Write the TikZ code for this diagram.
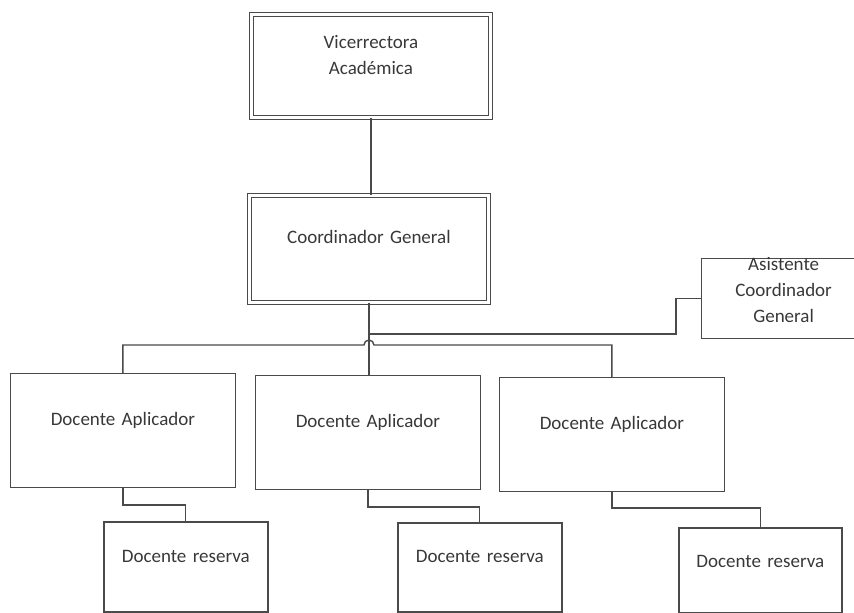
\documentclass[tikz,border=0pt]{standalone}
\usepackage{fontspec}
\setmainfont{Carlito}
\usepackage{tikz}
\usetikzlibrary{calc}
\definecolor{linegray}{HTML}{4A4A4A}
\definecolor{textgray}{HTML}{383838}

\begin{document}
\begin{tikzpicture}[x=1pt, y=-1pt,
  unit/.style={draw=linegray, line width=1.2pt, inner sep=0pt, anchor=north west, align=center, text=textgray, font=\fontsize{19}{26}\selectfont},
  head/.style={unit, double=white, double distance=3.5pt, line width=0.9pt, text width=239pt},
  apl/.style={unit, line width=0.8pt, text width=225pt, text height=52pt, text depth=62pt},
  res/.style={unit, line width=1.5pt, text width=164pt},
  link/.style={draw=linegray, line width=1.4pt}]
\useasboundingbox (0,0) rectangle (854,613);
\node (vra) [head, text height=34pt, text depth=69pt] at (251,14) {Vicerrectora\\Académica};
\node (cg) [head, text height=48pt, text depth=59pt] at (249,195) {Coordinador General};
\node (asi) [unit, text width=164pt, text height=12pt, text depth=68pt] at (701,258) {Asistente\\Coordinador\\General};
\node (da1) [apl] at (10,373) {Docente Aplicador};
\node (da2) [apl] at (255,375) {Docente Aplicador};
\node (da3) [apl] at (499,377) {Docente Aplicador};
\node (dr1) [res, text height=41pt, text depth=49pt] at (103,521) {Docente reserva};
\node (dr2) [res, text height=40pt, text depth=49pt] at (397,522) {Docente reserva};
\node (dr3) [res, text width=163pt, text height=40pt, text depth=45pt] at (678,527) {Docente reserva};
\draw[link] (vra.south) -- (vra.south |- cg.north);
\draw[link] (cg.south) -- (cg.south |- da2.north);
\coordinate (hop) at ($(cg.south |- da2.north)+(0,-30)$);
\draw[link] (da1.north) |- ($(hop)+(-5,0)$) arc[start angle=180, end angle=0, radius=5pt] -| (da3.north);
\draw[link] ($(cg.south)+(0,31)$) -| ($(asi.west)+(-25,0)$) -- (asi.west);
\draw[link] (da1.south) -- ++(0,17) -| (dr1.north);
\draw[link] (da2.south) -- ++(0,17) -| (dr2.north);
\draw[link] (da3.south) -- ++(0,16) -| (dr3.north);
\end{tikzpicture}
\end{document}
